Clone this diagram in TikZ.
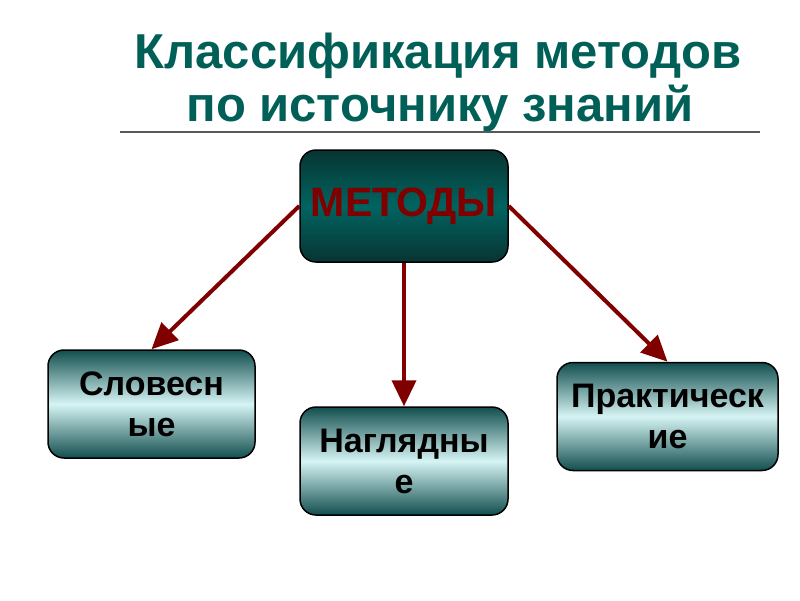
\documentclass[tikz,border=0pt]{standalone}
\usepackage{fontspec}
\setmainfont{Liberation Sans}
\usetikzlibrary{arrows.meta}
\definecolor{titleteal}{RGB}{0,96,88}
\definecolor{darkred}{RGB}{128,0,0}
\definecolor{boxdark}{RGB}{18,78,78}
\definecolor{boxlight}{RGB}{214,244,244}
\definecolor{mdark}{RGB}{8,52,50}
\definecolor{mmid}{RGB}{0,100,96}
\tikzset{
  mainbox/.style={draw=black, line width=1.5pt, rounded corners=16pt, minimum width=208pt, minimum height=112pt,
    top color=mdark, bottom color=mdark, middle color=mmid, align=center,
    font=\fontsize{41}{44}\selectfont\bfseries, text=darkred},
  subbox/.style={draw=black, line width=1.5pt, rounded corners=16pt, minimum height=108pt,
    top color=boxdark, bottom color=boxdark, middle color=boxlight, align=center,
    font=\fontsize{34}{41}\selectfont\bfseries, text=black},
  conn/.style={draw=darkred, line width=4pt, -{Triangle[length=26pt,width=24pt]}},
  ttl/.style={text=titleteal, font=\fontsize{49}{52}\selectfont\bfseries, inner sep=0pt, anchor=base}
}
\begin{document}
\begin{tikzpicture}[x=1pt,y=-1pt]
\useasboundingbox[fill=white] (0,0) rectangle (800,600);
\node[ttl] (t1) at (438,68) {Классификация методов};
\node[ttl] (t2) at (440,121) {по источнику знаний};
\coordinate (l1) at (120,132);
\coordinate (l2) at (760,132);
\draw[gray!70!black, line width=2pt] (l1) -- (l2);
\node[mainbox] (m) at (404,206) {МЕТОДЫ};
\node[subbox, minimum width=207pt] (s) at (151.5,404) {Словесн\\ые};
\node[subbox, minimum width=208pt] (n) at (404,461) {Наглядны\\е};
\node[subbox, minimum width=221pt] (p) at (667.5,416.5) {Практическ\\ие};
\draw[conn] (m.west) -- (s.north);
\draw[conn] (m.south) -- (n.north);
\draw[conn] (m.east) -- (p.north);
\end{tikzpicture}
\end{document}
